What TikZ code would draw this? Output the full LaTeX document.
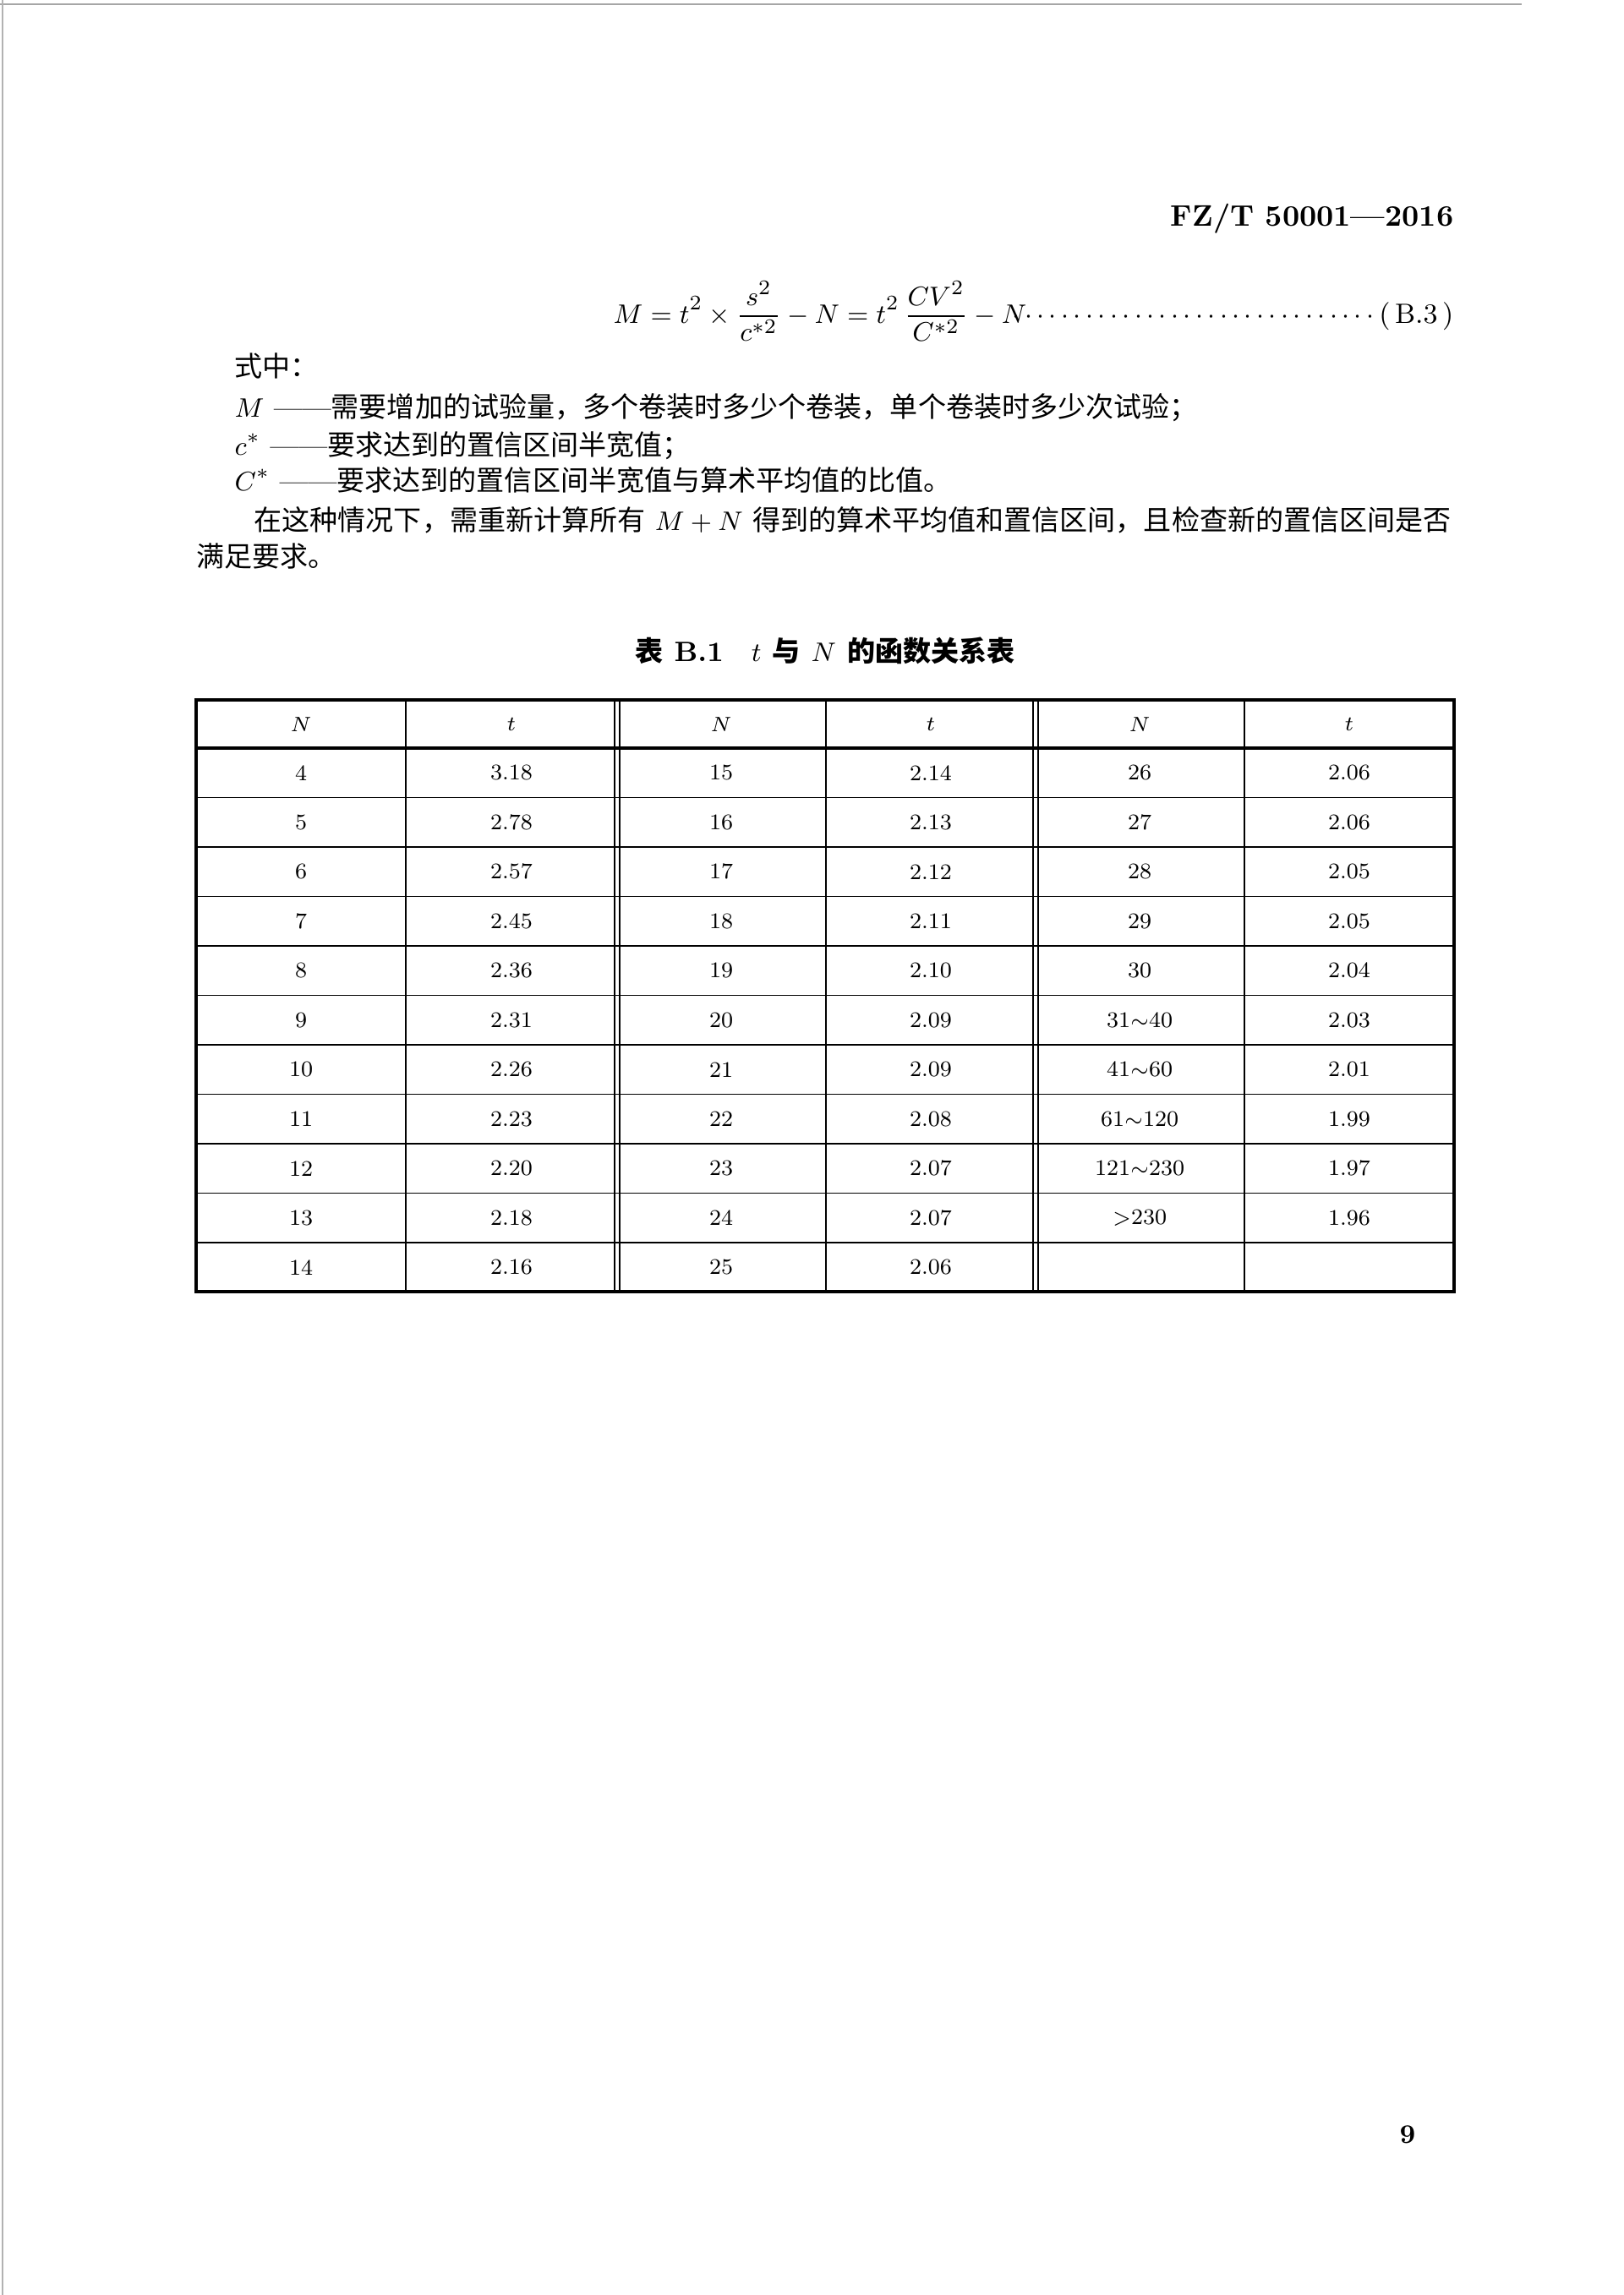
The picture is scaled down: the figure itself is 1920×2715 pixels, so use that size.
\documentclass[tikz,border=0pt]{standalone}
\usepackage{fontspec}
\newfontfamily\cjk{Noto Sans CJK SC}
\begin{document}
\begin{tikzpicture}[x=0.01cm,y=-0.01cm,
  txt/.style={anchor=base west,inner sep=0,font=\fontsize{9.4pt}{11pt}\selectfont},
  cell/.style={inner sep=0,font=\fontsize{7.5pt}{9pt}\selectfont}]
\useasboundingbox (0,0) rectangle (1920,2715);
\fill[white] (0,0) rectangle (1920,2715);
\draw[gray!70,line width=0.6pt] (0,5) -- (1800,5);
\draw[gray!60,line width=0.4pt] (3,0) -- (3,2715);
\node[anchor=base east,inner sep=0,font=\fontsize{10pt}{12pt}\selectfont\bfseries] (hdr) at (1720,268) {FZ/T 50001—2016};
\node[anchor=base,inner sep=0,font=\fontsize{9.4pt}{11pt}\selectfont] (eq) at (970,382)
 {$\displaystyle M=t^2\times\frac{s^2}{c^{*2}}-N=t^2\,\frac{CV^2}{C^{*2}}-N$};
\node[anchor=base east,inner sep=0,font=\fontsize{9.4pt}{11pt}\selectfont] (eqn) at (1720,382)
 {$\cdots\cdots\cdots\cdots\cdots\cdots\cdots\cdots\cdots\cdots\,$(\,B.3\,)};
\node[txt] (l1) at (277,445) {\cjk 式中：};
\node[txt] (l2) at (277,493) {$M$ ——{\cjk 需要增加的试验量，多个卷装时多少个卷装，单个卷装时多少次试验；}};
\node[txt] (l3) at (277,538) {$c^{*}$ ——{\cjk 要求达到的置信区间半宽值；}};
\node[txt] (l4) at (277,580) {$C^{*}$ ——{\cjk 要求达到的置信区间半宽值与算术平均值的比值。}};
\node[txt] (l5) at (300,627) {{\cjk 在这种情况下，需重新计算所有} $M+N$ {\cjk 得到的算术平均值和置信区间，且检查新的置信区间是否}};
\node[txt] (l6) at (232,670) {\cjk 满足要求。};
\node[anchor=base,inner sep=0,font=\fontsize{9.4pt}{11pt}\selectfont\bfseries] (cap) at (976,782) {{\cjk 表} B.1\quad $t$ {\cjk 与} $N$ {\cjk 的函数关系表}};
% table
\draw[line width=1.2pt] (232,828) rectangle (1720,1528);
\foreach \x in {480,977,1472} \draw[line width=0.5pt] (\x,828) -- (\x,1528);
\foreach \x in {727,1222} \draw[line width=0.5pt] (\x,828) -- (\x,1528);
\foreach \x in {733,1228} \draw[line width=0.5pt] (\x,828) -- (\x,1528);
\draw[line width=0.9pt] (232,885) -- (1720,885);
\foreach \i in {1,...,10} \draw[line width=0.5pt] (232,885+58.5*\i) -- (1720,885+58.5*\i);
\foreach \x/\l in {356/N,605/t,853/N,1101/t,1348/N,1596/t}
  \node[cell] at (\x,857) {$\l$};
\foreach \n/\t [count=\i] in {4/3.18,5/2.78,6/2.57,7/2.45,8/2.36,9/2.31,10/2.26,11/2.23,12/2.20,13/2.18,14/2.16}
  {\node[cell] at (356,885+58.5*\i-29.25) {\n};\node[cell] at (605,885+58.5*\i-29.25) {\t};}
\foreach \n/\t [count=\i] in {15/2.14,16/2.13,17/2.12,18/2.11,19/2.10,20/2.09,21/2.09,22/2.08,23/2.07,24/2.07,25/2.06}
  {\node[cell] at (853,885+58.5*\i-29.25) {\n};\node[cell] at (1101,885+58.5*\i-29.25) {\t};}
\foreach \n/\t [count=\i] in {26/2.06,27/2.06,28/2.05,29/2.05,30/2.04,31$\sim$40/2.03,41$\sim$60/2.01,61$\sim$120/1.99,121$\sim$230/1.97,$>$230/1.96}
  {\node[cell] at (1348,885+58.5*\i-29.25) {\n};\node[cell] at (1596,885+58.5*\i-29.25) {\t};}
\node[anchor=base,inner sep=0,font=\fontsize{9pt}{11pt}\selectfont\bfseries] (pg) at (1665,2535) {9};
\end{tikzpicture}
\end{document}
